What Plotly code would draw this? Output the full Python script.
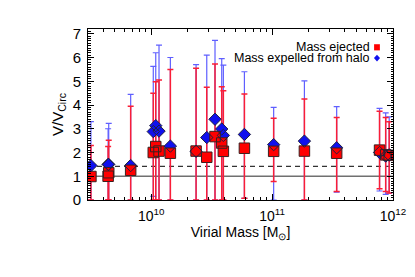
import plotly.graph_objects as go

# ---- data ----
mass = [3.17e9, 4.4e9, 4.45e9, 6.76e9, 1.04e10, 1.09e10, 1.16e10, 1.44e10,
        2.35e10, 2.88e10, 3.37e10, 3.83e10, 3.95e10, 5.9e10, 1.03e11, 1.85e11,
        3.42e11, 7.74e11, 8.7e11, 9.3e11]

ejected = [0.99, 1.0, 1.15, 1.25, 2.0, 2.25, 2.06, 1.97,
           2.06, 1.8, 2.67, 2.4, 2.05, 2.18, 2.05, 2.06,
           1.97, 2.1, 1.9, 1.88]
ejected_hi = [2.3, 2.25, 2.52, 3.95, 4.5, 4.98, 5.05, 5.5,
              5.55, 4.75, 5.73, 4.77, 4.6, 4.46, 3.44, 4.25,
              3.47, 3.74, 3.47, 3.3]
ejected_lo = [0.0, 0.0, 0.0, 0.0, 0.0, 0.0, 0.0, 0.0,
              0.0, 0.0, 0.0, 0.0, 0.0, 0.07, 0.78, 0.0,
              0.36, 0.47, 0.36, 0.29]

expelled = [1.45, 1.5, 1.5, 1.45, 2.88, 3.13, 2.9, 2.27,
            2.05, 2.63, 3.4, 2.99, 2.72, 2.76, 2.33, 2.48,
            2.2, 2.0, 1.85, 1.9]
expelled_hi = [3.3, 3.0, 3.23, 4.45, 5.63, 6.2, 6.52, 6.0,
               5.7, 6.1, 6.72, 5.95, 5.68, 5.4, 3.9, 5.02,
               3.93, 3.86, 3.67, 3.5]
expelled_lo = [0.0, 0.0, 0.0, 0.0, 0.15, 0.0, 0.0, 0.0,
               0.0, 0.0, 0.0, 0.0, 0.0, 0.07, 0.0, 0.0,
               0.33, 0.38, 0.24, 0.29]

x_tickvals = [1e10, 1e11, 1e12]
x_ticktext = ["10<sup>10</sup>", "10<sup>11</sup>", "10<sup>12</sup>"]
y_tickvals = [0, 1, 2, 3, 4, 5, 6, 7]

ref_solid = 1.0
ref_dashed = 1.414

FONT = "Liberation Sans, Arial, sans-serif"

ej_up = [h - v for h, v in zip(ejected_hi, ejected)]
ej_dn = [v - l for v, l in zip(ejected, ejected_lo)]
ex_up = [h - v for h, v in zip(expelled_hi, expelled)]
ex_dn = [v - l for v, l in zip(expelled, expelled_lo)]

fig = go.Figure()

# error bars (blue behind red)
fig.add_trace(go.Scatter(
    x=mass, y=expelled, mode="markers",
    marker=dict(size=0.1, color="rgba(0,0,0,0)"),
    error_y=dict(type="data", array=ex_up, arrayminus=ex_dn,
                 color="rgb(95,95,255)", thickness=1.2, width=3),
    showlegend=False, hoverinfo="skip"))
fig.add_trace(go.Scatter(
    x=mass, y=ejected, mode="markers",
    marker=dict(size=0.1, color="rgba(0,0,0,0)"),
    error_y=dict(type="data", array=ej_up, arrayminus=ej_dn,
                 color="rgb(250,30,55)", thickness=1.5, width=3),
    showlegend=False, hoverinfo="skip"))

# filled symbols
fig.add_trace(go.Scatter(
    x=mass, y=expelled, mode="markers",
    marker=dict(symbol="diamond", size=9.5, color="#1010ee",
                line=dict(width=0)),
    name="Mass expelled from halo", showlegend=False))
fig.add_trace(go.Scatter(
    x=mass, y=ejected, mode="markers",
    marker=dict(symbol="square", size=10.5, color="#ff0000",
                line=dict(width=0)),
    name="Mass ejected", showlegend=False))

# outlines drawn on top
fig.add_trace(go.Scatter(
    x=mass, y=ejected, mode="markers",
    marker=dict(symbol="square-open", size=10.5, color="#3a2020",
                line=dict(width=1)),
    showlegend=False, hoverinfo="skip"))
fig.add_trace(go.Scatter(
    x=mass, y=expelled, mode="markers",
    marker=dict(symbol="diamond-open", size=9.5, color="#202040",
                line=dict(width=1)),
    showlegend=False, hoverinfo="skip"))

# reference lines
fig.add_shape(type="line", xref="paper", x0=0, x1=1, yref="y",
              y0=ref_solid, y1=ref_solid, layer="below",
              line=dict(color="#707070", width=1.5))
fig.add_shape(type="line", xref="paper", x0=0, x1=1, yref="y",
              y0=ref_dashed, y1=ref_dashed, layer="below",
              line=dict(color="#333333", width=1.3, dash="5px,4px"))

# legend (text right-aligned, symbol to the right)
fig.add_annotation(xref="paper", yref="paper", x=0.93, y=0.893,
                   text="Mass ejected", showarrow=False, xanchor="right",
                   yanchor="middle", font=dict(family=FONT, size=12.5, color="black"))
fig.add_annotation(xref="paper", yref="paper", x=0.93, y=0.830,
                   text="Mass expelled from halo", showarrow=False, xanchor="right",
                   yanchor="middle", font=dict(family=FONT, size=12.5, color="black"))
fig.add_shape(type="rect", xref="paper", yref="paper",
              x0=0.938, x1=0.957, y0=0.875, y1=0.911,
              fillcolor="#ff0000", line=dict(width=0))
fig.add_shape(type="path", xref="paper", yref="paper",
              path="M 0.9475 0.850 L 0.9575 0.830 L 0.9475 0.810 L 0.9375 0.830 Z",
              fillcolor="#1010ee", line=dict(width=0))

# figure kept slightly smaller than the window so no scrollbar appears
fig.update_layout(
    width=410, height=261,
    margin=dict(l=80, r=15, t=21, b=69),
    paper_bgcolor="white", plot_bgcolor="white",
    font=dict(family=FONT, size=15, color="black"),
    showlegend=False,
    xaxis=dict(
        type="log", range=[9.477, 12.0],
        tickvals=x_tickvals, ticktext=x_ticktext,
        ticks="inside", ticklen=6, tickwidth=1, tickcolor="black",
        showline=True, linecolor="black", linewidth=1, mirror="allticks",
        showgrid=False, zeroline=False,
        minor=dict(ticks="inside", ticklen=3, tickcolor="black",
                   dtick="D1", showgrid=False),
        tickfont=dict(size=14),
        ticklabelstandoff=3,
        ticklabeloverflow="allow",
        title=dict(text="Virial Mass [M<sub>⊙</sub>]", font=dict(size=14),
                   standoff=2),
    ),
    yaxis=dict(
        range=[0, 7.2],
        tickvals=y_tickvals,
        ticks="inside", ticklen=6, tickwidth=1, tickcolor="black",
        showline=True, linecolor="black", linewidth=1, mirror="allticks",
        showgrid=False, zeroline=False,
        minor=dict(ticks="inside", ticklen=2.5, tickcolor="black",
                   dtick=0.1, showgrid=False),
        tickfont=dict(size=15),
        ticklabelstandoff=3,
        title=dict(text="V/V<sub>Circ</sub>", font=dict(size=15), standoff=5),
    ),
)

fig.write_html("out.html")
